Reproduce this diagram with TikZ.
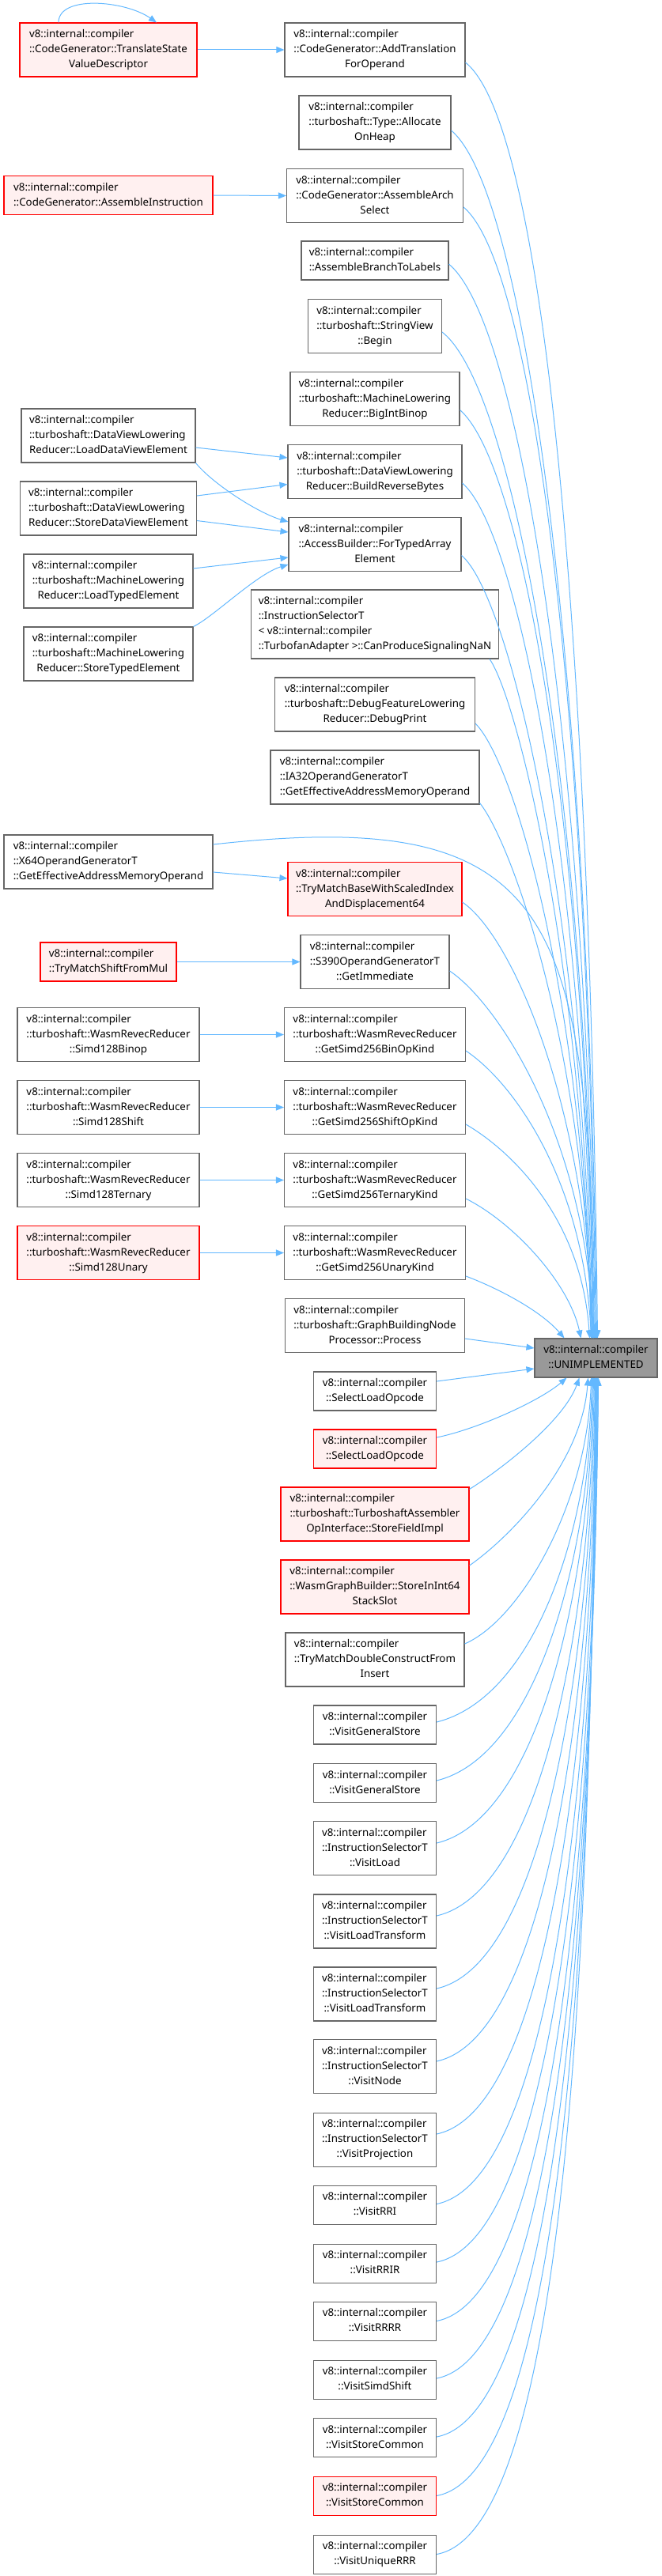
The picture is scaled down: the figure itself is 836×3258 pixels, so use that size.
\documentclass[tikz,border=0pt]{standalone}
\usepackage{fontspec}
\setmainfont{Noto Sans}
\usetikzlibrary{arrows.meta,calc}
\definecolor{boxgray}{HTML}{666666}
\definecolor{boxred}{HTML}{FF0000}
\definecolor{boxpink}{HTML}{FFF0F0}
\definecolor{boxdark}{HTML}{999999}
\definecolor{edgeblue}{HTML}{63B8FF}
\newcommand{\fnlines}[2]{\begin{tabular}{@{}l@{}}#1\\\multicolumn{1}{@{}c@{}}{#2}\end{tabular}}
\tikzset{
  funcbox/.style={draw=boxgray, fill=white, line width=0.8pt, inner xsep=4pt, inner ysep=4.125pt, font=\fontsize{10}{14.25}\selectfont, text=black},
  funcboxred/.style={funcbox, draw=boxred, fill=boxpink},
  funcboxmain/.style={funcbox, fill=boxdark},
  callarrow/.style={draw=edgeblue, line width=0.75pt, -{Triangle[length=7.5pt,width=6pt]}},
}

\begin{document}
\begin{tikzpicture}[x=0.75pt,y=0.75pt]
\useasboundingbox (0,0) rectangle (836,-3258);
\node[funcboxred, minimum width=168pt] (tsvd) at (137,-63) {\fnlines{v8::internal::compiler\\::CodeGenerator::TranslateState}{ValueDescriptor}};
\node[funcboxred, minimum width=198pt] (asmins) at (137,-247) {\fnlines{v8::internal::compiler}{::CodeGenerator::AssembleInstruction}};
\node[funcbox, minimum width=165pt] (loaddv) at (137,-551) {\fnlines{v8::internal::compiler\\::turboshaft::DataViewLowering}{Reducer::LoadDataViewElement}};
\node[funcbox, minimum width=167.25pt] (storedv) at (137,-643) {\fnlines{v8::internal::compiler\\::turboshaft::DataViewLowering}{Reducer::StoreDataViewElement}};
\node[funcbox, minimum width=160.5pt] (loadte) at (137,-735) {\fnlines{v8::internal::compiler\\::turboshaft::MachineLowering}{Reducer::LoadTypedElement}};
\node[funcbox, minimum width=160.5pt] (storete) at (137,-827) {\fnlines{v8::internal::compiler\\::turboshaft::MachineLowering}{Reducer::StoreTypedElement}};
\node[funcbox, minimum width=198pt] (x64) at (137,-1090) {\fnlines{v8::internal::compiler\\::X64OperandGeneratorT}{::GetEffectiveAddressMemoryOperand}};
\node[funcboxred, minimum width=129pt] (shiftmul) at (137,-1216.5) {\fnlines{v8::internal::compiler}{::TryMatchShiftFromMul}};
\node[funcbox, minimum width=172.5pt] (binop) at (137,-1308.5) {\fnlines{v8::internal::compiler\\::turboshaft::WasmRevecReducer}{::Simd128Binop}};
\node[funcbox, minimum width=172.5pt] (shift) at (137,-1400.5) {\fnlines{v8::internal::compiler\\::turboshaft::WasmRevecReducer}{::Simd128Shift}};
\node[funcbox, minimum width=172.5pt] (ternary) at (137,-1492.5) {\fnlines{v8::internal::compiler\\::turboshaft::WasmRevecReducer}{::Simd128Ternary}};
\node[funcboxred, minimum width=172.5pt] (unary) at (137,-1584.5) {\fnlines{v8::internal::compiler\\::turboshaft::WasmRevecReducer}{::Simd128Unary}};
\node[funcbox, minimum width=171pt] (addtr) at (474,-63) {\fnlines{v8::internal::compiler\\::CodeGenerator::AddTranslation}{ForOperand}};
\node[funcbox, minimum width=144pt] (alloc) at (474,-155) {\fnlines{v8::internal::compiler\\::turboshaft::Type::Allocate}{OnHeap}};
\node[funcbox, minimum width=167.25pt] (archsel) at (474,-247.5) {\fnlines{v8::internal::compiler\\::CodeGenerator::AssembleArch}{Select}};
\node[funcbox, minimum width=139.5pt] (branch) at (474,-329.5) {\fnlines{v8::internal::compiler}{::AssembleBranchToLabels}};
\node[funcbox, minimum width=126.75pt] (begin) at (474,-412.5) {\fnlines{v8::internal::compiler\\::turboshaft::StringView}{::Begin}};
\node[funcbox, minimum width=160.5pt] (bigint) at (474,-504.5) {\fnlines{v8::internal::compiler\\::turboshaft::MachineLowering}{Reducer::BigIntBinop}};
\node[funcbox, minimum width=165pt] (revbytes) at (474,-596.5) {\fnlines{v8::internal::compiler\\::turboshaft::DataViewLowering}{Reducer::BuildReverseBytes}};
\node[funcbox, minimum width=163.5pt] (typedarr) at (474,-688.5) {\fnlines{v8::internal::compiler\\::AccessBuilder::ForTypedArray}{Element}};
\node[funcbox, minimum width=234.75pt] (nan) at (474,-789.5) {\fnlines{v8::internal::compiler\\::InstructionSelectorT\\< v8::internal::compiler}{::TurbofanAdapter >::CanProduceSignalingNaN}};
\node[funcbox, minimum width=189.75pt] (debug) at (474,-891) {\fnlines{v8::internal::compiler\\::turboshaft::DebugFeatureLowering}{Reducer::DebugPrint}};
\node[funcbox, minimum width=198pt] (ia32) at (474,-983) {\fnlines{v8::internal::compiler\\::IA32OperandGeneratorT}{::GetEffectiveAddressMemoryOperand}};
\node[funcboxred, minimum width=165pt] (trymatch) at (474,-1124.5) {\fnlines{v8::internal::compiler\\::TryMatchBaseWithScaledIndex}{AndDisplacement64}};
\node[funcbox, minimum width=141pt] (s390) at (474,-1216.5) {\fnlines{v8::internal::compiler\\::S390OperandGeneratorT}{::GetImmediate}};
\node[funcbox, minimum width=171.75pt] (getbin) at (474,-1308.5) {\fnlines{v8::internal::compiler\\::turboshaft::WasmRevecReducer}{::GetSimd256BinOpKind}};
\node[funcbox, minimum width=171.75pt] (getshift) at (474,-1400.5) {\fnlines{v8::internal::compiler\\::turboshaft::WasmRevecReducer}{::GetSimd256ShiftOpKind}};
\node[funcbox, minimum width=171.75pt] (getternary) at (474,-1492.5) {\fnlines{v8::internal::compiler\\::turboshaft::WasmRevecReducer}{::GetSimd256TernaryKind}};
\node[funcbox, minimum width=171.75pt] (getunary) at (474,-1584.5) {\fnlines{v8::internal::compiler\\::turboshaft::WasmRevecReducer}{::GetSimd256UnaryKind}};
\node[funcbox, minimum width=170.25pt] (process) at (474,-1676.5) {\fnlines{v8::internal::compiler\\::turboshaft::GraphBuildingNode}{Processor::Process}};
\node[funcbox, minimum width=116.25pt] (selload) at (474,-1759.5) {\fnlines{v8::internal::compiler}{::SelectLoadOpcode}};
\node[funcboxred, minimum width=116.25pt] (selload2) at (474,-1832.5) {\fnlines{v8::internal::compiler}{::SelectLoadOpcode}};
\node[funcboxred, minimum width=178.5pt] (storefield) at (474,-1915) {\fnlines{v8::internal::compiler\\::turboshaft::TurboshaftAssembler}{OpInterface::StoreFieldImpl}};
\node[funcboxred, minimum width=178.5pt] (stack) at (474,-2007) {\fnlines{v8::internal::compiler\\::WasmGraphBuilder::StoreInInt64}{StackSlot}};
\node[funcbox, minimum width=169.5pt] (dbl) at (474,-2099) {\fnlines{v8::internal::compiler\\::TryMatchDoubleConstructFrom}{Insert}};
\node[funcbox, minimum width=116.25pt] (vgs1) at (474,-2181.5) {\fnlines{v8::internal::compiler}{::VisitGeneralStore}};
\node[funcbox, minimum width=116.25pt] (vgs2) at (474,-2255) {\fnlines{v8::internal::compiler}{::VisitGeneralStore}};
\node[funcbox, minimum width=116.25pt] (vload) at (474,-2337.5) {\fnlines{v8::internal::compiler\\::InstructionSelectorT}{::VisitLoad}};
\node[funcbox, minimum width=116.25pt] (vlt1) at (474,-2430) {\fnlines{v8::internal::compiler\\::InstructionSelectorT}{::VisitLoadTransform}};
\node[funcbox, minimum width=116.25pt] (vlt2) at (474,-2522) {\fnlines{v8::internal::compiler\\::InstructionSelectorT}{::VisitLoadTransform}};
\node[funcbox, minimum width=116.25pt] (vnode) at (474,-2613.5) {\fnlines{v8::internal::compiler\\::InstructionSelectorT}{::VisitNode}};
\node[funcbox, minimum width=116.25pt] (vproj) at (474,-2706) {\fnlines{v8::internal::compiler\\::InstructionSelectorT}{::VisitProjection}};
\node[funcbox, minimum width=116.25pt] (vrri) at (474,-2788.5) {\fnlines{v8::internal::compiler}{::VisitRRI}};
\node[funcbox, minimum width=116.25pt] (vrrir) at (474,-2862.5) {\fnlines{v8::internal::compiler}{::VisitRRIR}};
\node[funcbox, minimum width=116.25pt] (vrrrr) at (474,-2935.5) {\fnlines{v8::internal::compiler}{::VisitRRRR}};
\node[funcbox, minimum width=116.25pt] (vsimd) at (474,-3009.5) {\fnlines{v8::internal::compiler}{::VisitSimdShift}};
\node[funcbox, minimum width=116.25pt] (vsc1) at (474,-3083) {\fnlines{v8::internal::compiler}{::VisitStoreCommon}};
\node[funcboxred, minimum width=116.25pt] (vsc2) at (474,-3156.5) {\fnlines{v8::internal::compiler}{::VisitStoreCommon}};
\node[funcbox, minimum width=116.25pt] (vurrr) at (474,-3230.5) {\fnlines{v8::internal::compiler}{::VisitUniqueRRR}};
\node[funcboxmain, minimum width=116.25pt] (unimpl) at (753.5,-1717.5) {\fnlines{v8::internal::compiler}{::UNIMPLEMENTED}};
\draw[callarrow] (tsvd.east) -- (addtr.west);
\draw[callarrow] ($(tsvd.north)+(-63,0)$) .. controls +(0,35) and +(-40,28) .. ($(tsvd.north)+(61,0)$);
\draw[callarrow] (asmins.east) -- (archsel.west);
\draw[callarrow] ($(loaddv.east)+(0,-15)$) -- ($(revbytes.west)+(0,17.5)$);
\draw[callarrow] (loaddv.south east) .. controls +(20,-25) and +(-40,12) .. ($(typedarr.west)+(0,28.5)$);
\draw[callarrow] ($(storedv.east)+(0,16)$) -- ($(revbytes.west)+(0,-16)$);
\draw[callarrow] ($(storedv.east)+(0,-15.5)$) -- ($(typedarr.west)+(0,15.5)$);
\draw[callarrow] ($(loadte.east)+(0,16)$) -- ($(typedarr.west)+(0,-16.5)$);
\draw[callarrow] (storete.north east) .. controls +(25,12) and +(-40,-12) .. ($(typedarr.west)+(0,-25.5)$);
\draw[callarrow] ($(x64.east)+(0,-13)$) -- ($(trymatch.west)+(0,13.5)$);
\draw[callarrow] (shiftmul.east) -- (s390.west);
\draw[callarrow] (binop.east) -- (getbin.west);
\draw[callarrow] (shift.east) -- (getshift.west);
\draw[callarrow] (ternary.east) -- (getternary.west);
\draw[callarrow] (unary.east) -- (getunary.west);
\draw[callarrow] ($(addtr.east)+(0,-16)$) .. controls +(100,-80) and +(-10,888) .. ($(unimpl.north)+(2,0)$);
\draw[callarrow] ($(alloc.east)+(0,-10)$) .. controls +(95,-80) and +(-10,840) .. ($(unimpl.north)+(1,0)$);
\draw[callarrow] ($(archsel.east)+(0,-14.5)$) .. controls +(90,-75) and +(-10,787) .. (unimpl.north);
\draw[callarrow] ($(branch.east)+(0,-4.5)$) .. controls +(90,-75) and +(-10,747) .. ($(unimpl.north)+(-1,0)$);
\draw[callarrow] ($(begin.east)+(0,-7.5)$) .. controls +(90,-70) and +(-10,700) .. ($(unimpl.north)+(-2,0)$);
\draw[callarrow] ($(bigint.east)+(0,-14)$) .. controls +(80,-70) and +(-10,646) .. ($(unimpl.north)+(-3,0)$);
\draw[callarrow] ($(revbytes.east)+(0,-14.5)$) .. controls +(70,-60) and +(-10,595) .. ($(unimpl.north)+(-4,0)$);
\draw[callarrow] ($(typedarr.east)+(0,-14)$) .. controls +(60,-50) and +(-10,545) .. ($(unimpl.north)+(-5,0)$);
\draw[callarrow] ($(nan.south east)+(-12,0)$) .. controls +(35,-50) and +(-10,473) .. ($(unimpl.north)+(-6,0)$);
\draw[callarrow] ($(debug.east)+(0,-24)$) .. controls +(50,-50) and +(-10,428) .. ($(unimpl.north)+(-6,0)$);
\draw[callarrow] ($(ia32.south east)+(0,2)$) .. controls +(40,-50) and +(-10,373) .. ($(unimpl.north)+(-5,0)$);
\draw[callarrow] ($(x64.east)+(0,22)$) .. controls +(431,48) and +(-5,543) .. ($(unimpl.north)+(-3,0)$);
\draw[callarrow] ($(trymatch.east)+(0,-16.5)$) .. controls +(60,-40) and +(-10,304) .. ($(unimpl.north)+(-4,0)$);
\draw[callarrow] ($(s390.east)+(0,-11.5)$) .. controls +(60,-40) and +(-10,256) .. ($(unimpl.north)+(-3,0)$);
\draw[callarrow] ($(getbin.east)+(0,-20.5)$) .. controls +(60,-40) and +(-10,200) .. ($(unimpl.north)+(-6,0)$);
\draw[callarrow] ($(getshift.east)+(0,-21.5)$) .. controls +(60,-35) and +(-10,149) .. ($(unimpl.north)+(-8,0)$);
\draw[callarrow] ($(getternary.east)+(0,-23.5)$) .. controls +(60,-30) and +(-15,70) .. ($(unimpl.north)+(-19,0)$);
\draw[callarrow] ($(getunary.east)+(0,-29.5)$) .. controls +(40,-15) and +(-30,35) .. ($(unimpl.north)+(-40,0)$);
\draw[callarrow] ($(process.east)+(0,-16.5)$) -- ($(unimpl.west)+(0,12.5)$);
\draw[callarrow] ($(selload.east)+(0,12.5)$) -- ($(unimpl.west)+(0,-13.5)$);
\draw[callarrow] ($(selload2.east)+(0,14.5)$) .. controls +(50,10) and +(-35,-30) .. ($(unimpl.south)+(-37,0)$);
\draw[callarrow] ($(storefield.north east)+(0,-3)$) .. controls +(40,25) and +(-20,-55) .. ($(unimpl.south)+(-21,0)$);
\draw[callarrow] ($(stack.east)+(0,27)$) .. controls +(50,35) and +(-8,-110) .. ($(unimpl.south)+(-10,0)$);
\draw[callarrow] ($(dbl.east)+(0,20)$) .. controls +(70,30) and +(-5,-160) .. ($(unimpl.south)+(-6,0)$);
\draw[callarrow] ($(vgs1.east)+(0,3.5)$) .. controls +(120,30) and +(-5,-205) .. ($(unimpl.south)+(-5,0)$);
\draw[callarrow] ($(vgs2.east)+(0,3)$) .. controls +(123,30) and +(-5,-240) .. ($(unimpl.south)+(-4,0)$);
\draw[callarrow] ($(vload.east)+(0,6.5)$) .. controls +(126,30) and +(-5,-277) .. ($(unimpl.south)+(-3,0)$);
\draw[callarrow] ($(vlt1.east)+(0,7)$) .. controls +(131,30) and +(-5,-320) .. ($(unimpl.south)+(-2,0)$);
\draw[callarrow] ($(vlt2.east)+(0,7)$) .. controls +(135,30) and +(-5,-363) .. ($(unimpl.south)+(-1,0)$);
\draw[callarrow] ($(vnode.east)+(0,6.5)$) .. controls +(139,30) and +(-5,-407) .. (unimpl.south);
\draw[callarrow] ($(vproj.east)+(0,7)$) .. controls +(143,30) and +(-5,-450) .. ($(unimpl.south)+(1,0)$);
\draw[callarrow] ($(vrri.east)+(0,1)$) .. controls +(147,30) and +(-5,-491) .. ($(unimpl.south)+(2,0)$);
\draw[callarrow] ($(vrrir.east)+(0,1.5)$) .. controls +(150,30) and +(-5,-526) .. ($(unimpl.south)+(3,0)$);
\draw[callarrow] (vrrrr.east) .. controls +(154,30) and +(-5,-561) .. ($(unimpl.south)+(3,0)$);
\draw[callarrow] ($(vsimd.east)+(0,1.5)$) .. controls +(157,30) and +(-5,-595) .. ($(unimpl.south)+(2,0)$);
\draw[callarrow] ($(vsc1.east)+(0,1)$) .. controls +(160,30) and +(-5,-630) .. ($(unimpl.south)+(1,0)$);
\draw[callarrow] (vsc2.east) .. controls +(164,30) and +(-5,-665) .. (unimpl.south);
\draw[callarrow] (vurrr.east) .. controls +(167,30) and +(-5,-700) .. ($(unimpl.south)+(-1,0)$);
\end{tikzpicture}
\end{document}
